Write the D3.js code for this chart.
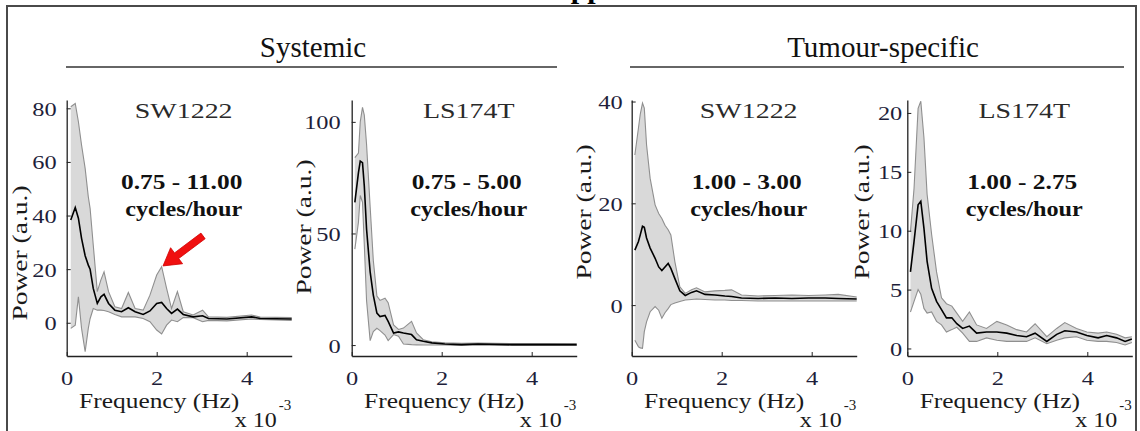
<!DOCTYPE html>
<html>
<head>
<meta charset="utf-8">
<script src="https://cdn.jsdelivr.net/npm/d3@7"></script>
<style>
  body { margin: 0; background: #fff; }
  svg text { font-family: "Liberation Serif", "Times New Roman", serif; }
</style>
</head>
<body>
<div id="chart"></div>
<script>
// ---- data (frequency in 10^-3 Hz, power in a.u.) ----
const freqSysSW = [0.09,0.19,0.26,0.33,0.41,0.48,0.52,0.59,0.68,0.76,0.83,0.93,1.07,1.22,1.37,1.52,1.7,1.85,2.0,2.11,2.22,2.33,2.46,2.59,2.81,3.02,3.15,3.56,4.11,4.3,5.0];
const meanSysSW = [38.3,43,39,31.5,25,21.5,20,12.8,7.2,9.7,10.6,7.2,4.7,4.1,5.6,4.1,3.1,4.4,7.2,7.6,5.3,3.5,5.1,3.1,2.2,2.6,1.6,1.4,2.2,1.6,1.4];
const hiSysSW   = [80.6,81.8,75,66.3,57.6,47,42.7,29,11.6,16,19,11.6,6,5.3,11.3,5.3,4.7,10.3,17.8,20.9,12.8,5.3,11.6,4.1,2.9,4.7,2.2,2.0,2.9,2.1,1.9];
const loSysSW   = [-2.1,-0.9,9.7,-2.1,-10.8,-2.1,1.5,5.3,4.7,4.7,4.6,4.1,3.1,2.2,2.2,2.2,1.6,0.4,-2.7,-4.2,-0.9,1.0,0.4,1.9,1.9,0.4,0.9,0.7,1.4,1.2,0.9];

const freqSysLS = [0.07,0.15,0.19,0.24,0.28,0.33,0.41,0.48,0.56,0.63,0.74,0.81,0.93,1.04,1.15,1.33,1.44,1.59,1.78,2.07,2.44,2.81,3.56,4.3,5.0];
const meanSysLS = [63.9,77.3,82.4,81.7,71.3,52,32.8,22.4,14.3,12.8,13.3,10.6,5.4,5.9,5.4,4.7,2.4,1.7,1.0,0.5,0.2,0.5,0.2,0.2,0.2];
const hiSysLS   = [84,86,100,106.5,103,90,62,38,22,20,21,19,9,7,7.6,10.6,5.4,2.4,1.5,1.0,0.8,0.9,0.7,0.7,0.6];
const loSysLS   = [43,55,67,64,45,20,2,6,7.5,6.5,4.5,2,4.7,4,0.5,0.2,0.1,0,0,0,-0.2,0,-0.2,-0.2,-0.2];

const freqTumSW = [0.07,0.15,0.19,0.24,0.28,0.33,0.41,0.52,0.6,0.67,0.74,0.81,0.87,0.96,1.07,1.19,1.33,1.44,1.63,1.85,2.07,2.22,2.44,2.81,3.19,3.56,3.93,4.3,4.59,5.0];
const meanTumSW = [10.8,12.5,13.8,15.5,15.3,13.2,11.2,9.2,7.5,6.8,7.5,8.2,7.2,5.2,2.8,1.9,2.5,2.8,2.1,2.0,1.8,1.7,1.4,1.3,1.4,1.3,1.4,1.4,1.3,1.2];
const hiTumSW   = [29.5,34.8,37.5,39.7,38.7,31.5,24.9,19.7,18.0,17.0,15.7,14.8,13.8,8.5,3.6,2.3,3.0,3.4,2.6,2.8,2.9,3.0,2.0,1.8,1.9,2.0,1.9,2.0,2.1,1.6];
const loTumSW   = [-6.9,-8.2,-8.4,-8.5,-5.2,-3.3,-1.3,-0.3,-1.0,-2.6,-1.5,-0.7,0.1,0.4,0.7,1.0,1.1,1.2,1.1,1.0,1.0,0.9,0.9,0.8,0.8,0.8,0.8,0.8,0.8,0.8];

const freqTumLS = [0.07,0.15,0.24,0.30,0.37,0.44,0.54,0.65,0.76,0.87,0.99,1.10,1.23,1.38,1.54,1.76,1.99,2.21,2.43,2.65,2.84,3.10,3.32,3.50,3.76,3.99,4.24,4.43,4.65,4.84,4.99];
const meanTumLS = [6.5,9.1,12.2,12.5,10.2,7.4,5.1,4.0,3.3,2.6,2.6,2.1,1.7,1.9,1.3,1.4,1.4,1.3,1.1,1.0,1.3,0.6,1.2,1.5,1.4,1.1,0.9,1.1,0.9,0.6,0.8];
const hiTumLS   = [9.9,13.6,20.4,21.0,17.9,13.1,9.7,6.5,4.3,3.8,3.6,3.0,2.3,3.1,2.0,1.7,2.3,2.0,1.6,1.4,2.1,1.0,1.7,2.2,1.7,1.4,1.3,1.4,1.2,0.9,1.0];
const loTumLS   = [3.1,4.0,5.0,4.6,3.4,3.0,3.1,2.3,2.0,1.4,1.6,1.8,1.3,0.6,0.6,0.9,0.7,0.6,0.6,0.6,0.9,0.4,0.7,0.9,1.0,0.7,0.6,0.6,0.5,0.3,0.5];

const cellLines = ["SW1222", "LS174T", "SW1222", "LS174T"];
const bandLabels = ["0.75 - 11.00", "0.75 - 5.00", "1.00 - 3.00", "1.00 - 2.75"];
const groupTitles = ["Systemic", "Tumour-specific"];
const xTicks = [0, 2, 4];
const yTicksList = [[0, 20, 40, 60, 80], [0, 50, 100], [0, 20, 40], [0, 5, 10, 15, 20]];
const yDomains = [[-12.4, 83.1], [-4.9, 109.8], [-10, 40.3], [-0.64, 21.1]];
// red arrow in panel 1 data units: tail -> tip
const arrowTail = [3.03, 32.4], arrowTip = [2.14, 21.2];

// ---- layout ----
const W = 1140, H = 431;
const plotTop = 100, plotBottom = 356, pw = 225;
const panelX = [66.7, 351.7, 631.7, 907.3];
const tickGap = [10, 11, 9, 5];
const ylabelPos = [[21, 253], [305, 227], [585, 212], [863, 212]];

// the panel font in the figure is a wide serif; widen Liberation Serif to match
function widen(sel, k) {
  sel.each(function () {
    const L = this.getComputedTextLength();
    d3.select(this).attr("textLength", L * k).attr("lengthAdjust", "spacingAndGlyphs");
  });
}

const svg = d3.select("#chart").append("svg")
  .attr("width", W).attr("height", H);

// frame
svg.append("rect")
  .attr("x", 7).attr("y", 6).attr("width", 1129).attr("height", 440)
  .attr("fill", "none").attr("stroke", "#4a4a4a").attr("stroke-width", 2);

// cut-off figure heading at the very top
svg.append("text")
  .attr("x", 549).attr("y", -2)
  .style("font-weight", "bold").style("font-size", "30px")
  .text("Appendix");

// group headings with underline
const groups = [
  { title: groupTitles[0], cx: 313, x1: 66, x2: 557 },
  { title: groupTitles[1], cx: 883, x1: 630, x2: 1124 }
];
groups.forEach(g => {
  svg.append("text")
    .attr("x", g.cx).attr("y", 57)
    .attr("text-anchor", "middle")
    .style("font-size", "29px").attr("fill", "#111")
    .text(g.title);
  svg.append("line")
    .attr("x1", g.x1).attr("x2", g.x2).attr("y1", 67).attr("y2", 67)
    .attr("stroke", "#333").attr("stroke-width", 1.6);
});

const series = [
  { f: freqSysSW, m: meanSysSW, hi: hiSysSW, lo: loSysSW },
  { f: freqSysLS, m: meanSysLS, hi: hiSysLS, lo: loSysLS },
  { f: freqTumSW, m: meanTumSW, hi: hiTumSW, lo: loTumSW },
  { f: freqTumLS, m: meanTumLS, hi: hiTumLS, lo: loTumLS }
];

series.forEach((s, i) => {
  const x0 = panelX[i];
  const x = d3.scaleLinear().domain([0, 5]).range([x0, x0 + pw]);
  const y = d3.scaleLinear().domain(yDomains[i]).range([plotBottom, plotTop]);
  const g = svg.append("g");

  const pts = s.f.map((f, k) => ({ f: f, m: s.m[k], hi: s.hi[k], lo: s.lo[k] }));

  // confidence band
  g.append("path")
    .datum(pts)
    .attr("fill", "#d9d9d9")
    .attr("d", d3.area().x(d => x(d.f)).y0(d => y(d.lo)).y1(d => y(d.hi)));
  ["hi", "lo"].forEach(k => {
    g.append("path")
      .datum(pts)
      .attr("fill", "none").attr("stroke", "#8f8f8f").attr("stroke-width", 1.1)
      .attr("d", d3.line().x(d => x(d.f)).y(d => y(d[k])));
  });
  // mean
  g.append("path")
    .datum(pts)
    .attr("fill", "none").attr("stroke", "#000").attr("stroke-width", 1.6)
    .attr("d", d3.line().x(d => x(d.f)).y(d => y(d.m)));

  // axes
  const xAxis = g.append("g")
    .attr("transform", `translate(0,${plotBottom})`)
    .call(d3.axisBottom(x).tickValues(xTicks).tickFormat(d3.format("d"))
      .tickSize(-4).tickSizeOuter(0).tickPadding(12));
  const yAxis = g.append("g")
    .attr("transform", `translate(${x0},0)`)
    .call(d3.axisLeft(y).tickValues(yTicksList[i]).tickFormat(d3.format("d"))
      .tickSize(-4).tickSizeOuter(0).tickPadding(tickGap[i]));
  [xAxis, yAxis].forEach(a => {
    a.select(".domain").attr("stroke", "#222").attr("stroke-width", 1.3);
    a.selectAll(".tick line").attr("stroke", "#222");
    a.selectAll(".tick text")
      .style("font-family", "'Liberation Serif', serif")
      .style("font-size", "19.5px").attr("fill", "#1e1e3a");
    widen(a.selectAll(".tick text"), 1.25);
  });
  yAxis.selectAll(".tick text").attr("dy", "0.36em");
  xAxis.selectAll(".tick text").attr("dy", "0.85em");

  // axis titles
  widen(g.append("text")
    .attr("x", x0 + pw / 2 - 20).attr("y", 408)
    .attr("text-anchor", "middle")
    .style("font-size", "21px").attr("fill", "#1a1a1a")
    .text("Frequency (Hz)"), 1.21);
  widen(g.append("text")
    .attr("x", x0 + pw - 15).attr("y", 427)
    .attr("text-anchor", "end")
    .style("font-size", "20px").attr("fill", "#1a1a1a")
    .text("x 10"), 1.2);
  g.append("text")
    .attr("x", x0 + pw - 13).attr("y", 410)
    .style("font-size", "15px").attr("fill", "#1a1a1a")
    .text("-3");
  widen(g.append("text")
    .attr("transform", `translate(${ylabelPos[i][0] + 6},${ylabelPos[i][1]}) rotate(-90)`)
    .attr("text-anchor", "middle")
    .style("font-size", "22px").attr("fill", "#1a1a1a")
    .text("Power (a.u.)"), 1.25);

  // panel annotations
  const cx = x0 + 117;
  widen(g.append("text")
    .attr("x", cx).attr("y", 118)
    .attr("text-anchor", "middle")
    .style("font-size", "22px").attr("fill", "#2a2a2a")
    .text(cellLines[i]), 1.27);
  widen(g.append("text")
    .attr("x", cx - 2).attr("y", 189)
    .attr("text-anchor", "middle")
    .style("font-size", "20px").style("font-weight", "bold").attr("fill", "#111")
    .text(bandLabels[i]), 1.27);
  widen(g.append("text")
    .attr("x", cx).attr("y", 216)
    .attr("text-anchor", "middle")
    .style("font-size", "20px").style("font-weight", "bold").attr("fill", "#111")
    .text("cycles/hour"), 1.21);

  // red arrow pointing at the ~2 x 10^-3 Hz peak
  if (i === 0) {
    const tx = x(arrowTail[0]), ty = y(arrowTail[1]);
    const px = x(arrowTip[0]), py = y(arrowTip[1]);
    const len = Math.hypot(px - tx, py - ty);
    const ux = (px - tx) / len, uy = (py - ty) / len;
    const nx = -uy, ny = ux;
    const head = 17, hw = 10, sw = 3.5;
    const bx = px - ux * head, by = py - uy * head;
    const poly = [
      [tx + nx * sw, ty + ny * sw], [bx + nx * sw, by + ny * sw], [bx + nx * hw, by + ny * hw],
      [px, py],
      [bx - nx * hw, by - ny * hw], [bx - nx * sw, by - ny * sw], [tx - nx * sw, ty - ny * sw]
    ];
    g.append("path")
      .attr("d", d3.line()(poly) + "Z")
      .attr("fill", "#f01010").attr("stroke", "#d00000").attr("stroke-width", 0.8);
  }
});
</script>
</body>
</html>
